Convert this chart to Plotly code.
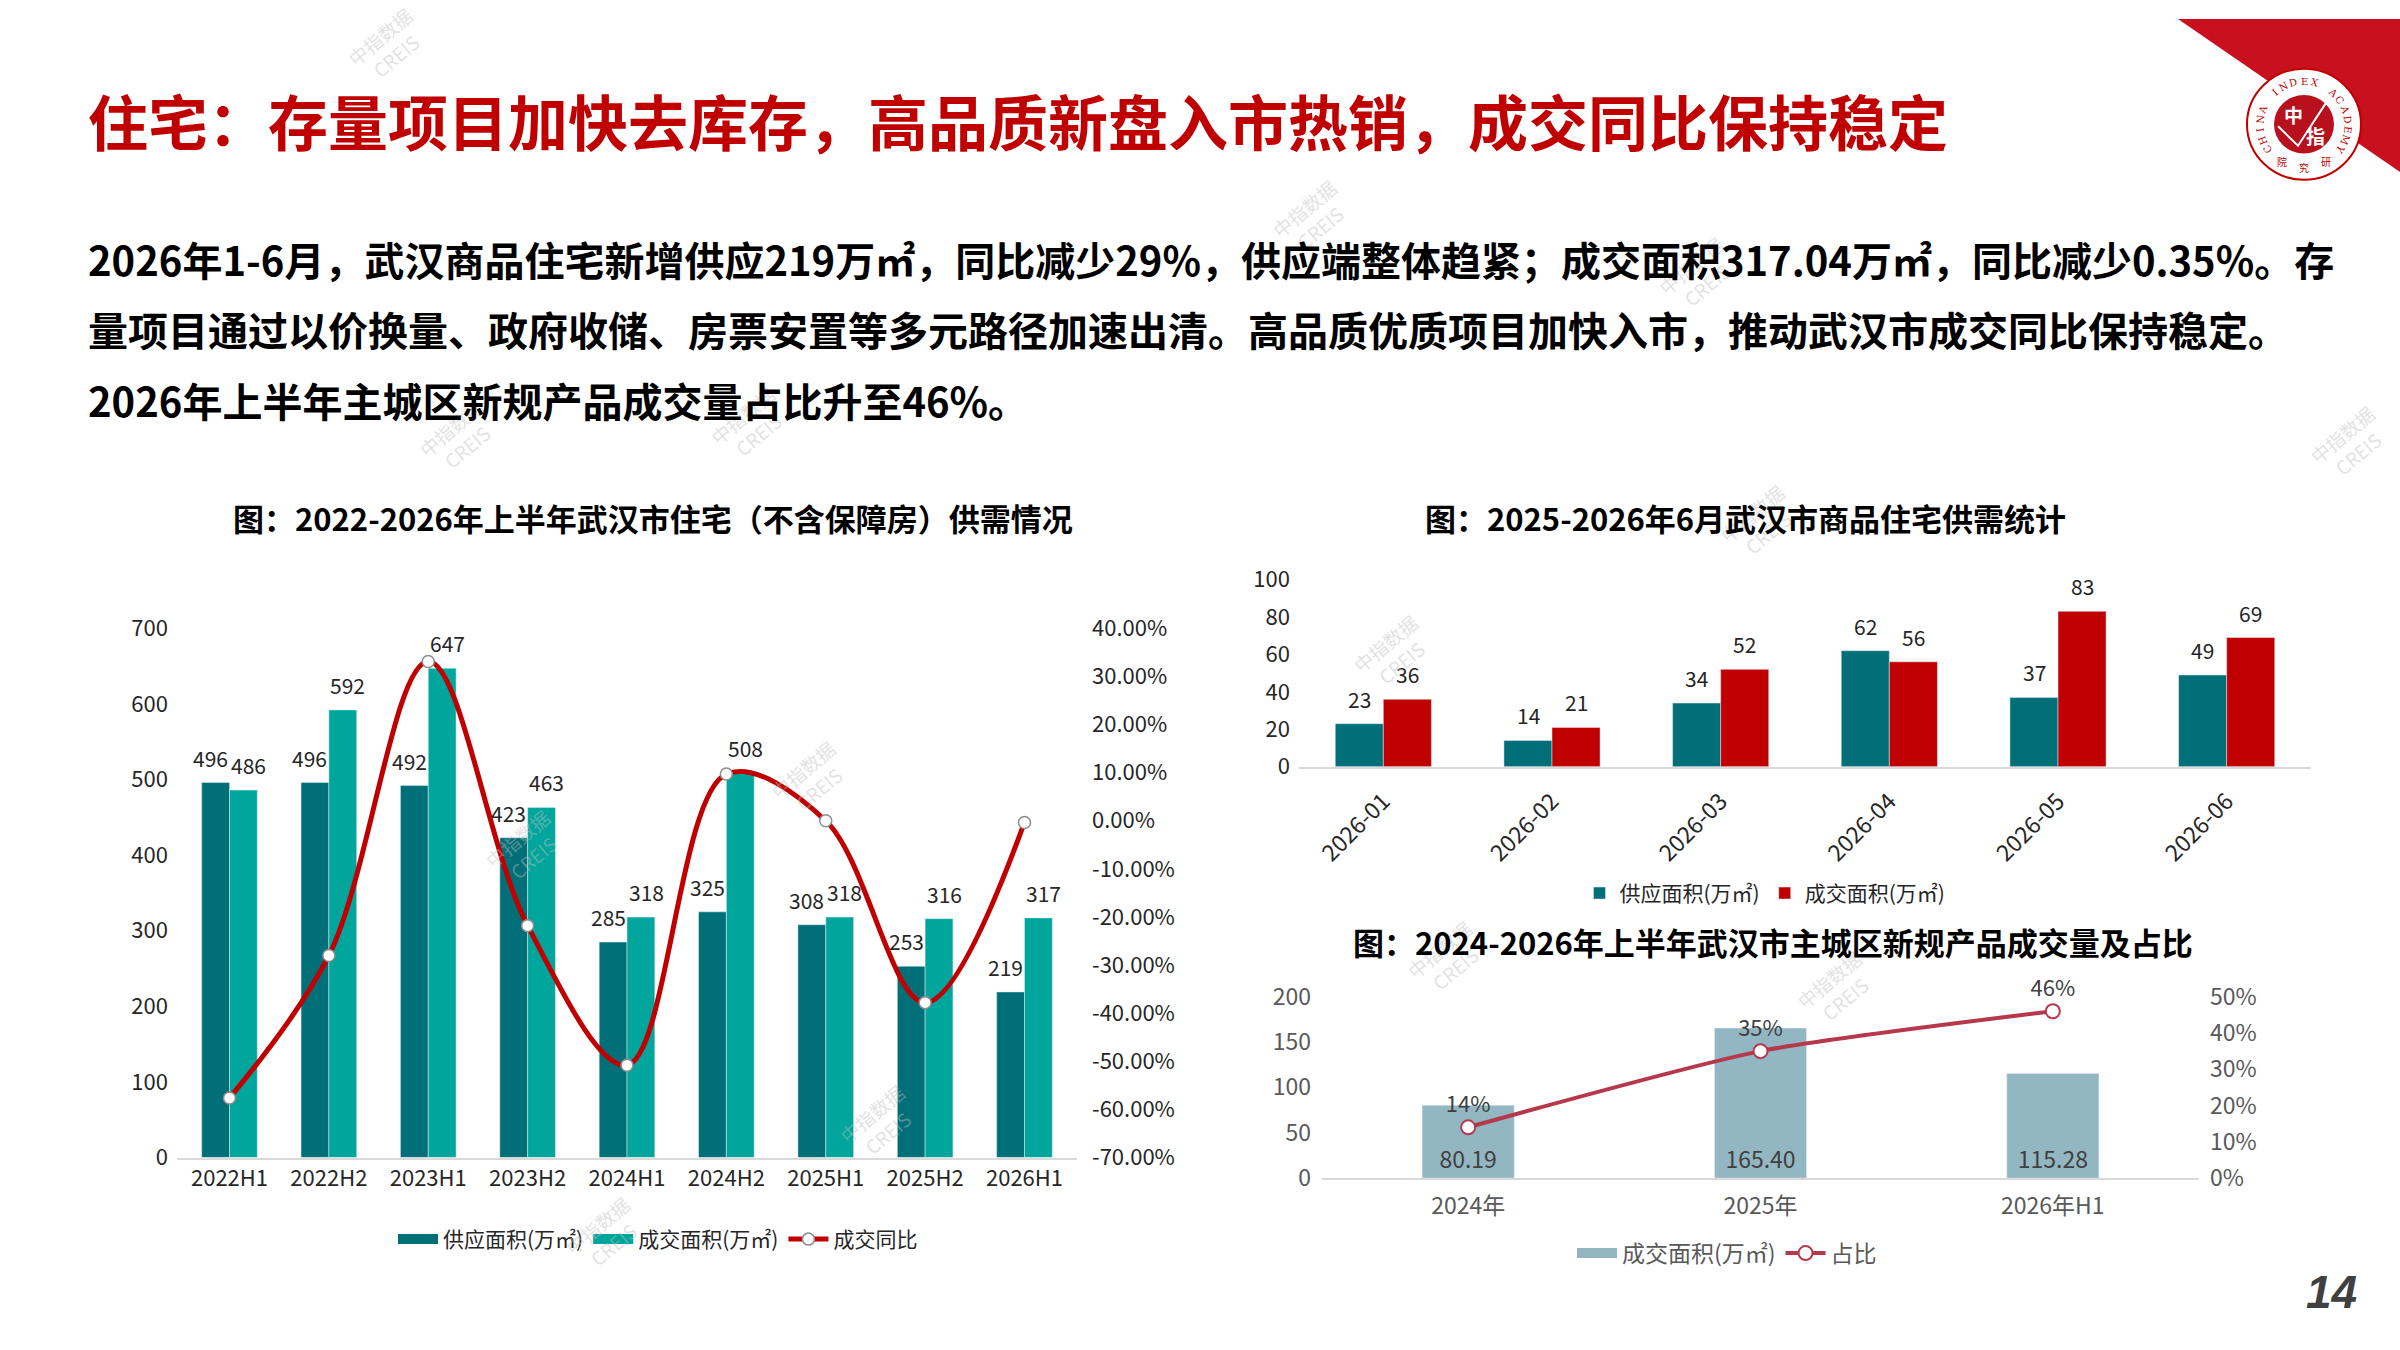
import math
import plotly.graph_objects as go

FONT = "Noto Sans CJK SC"
W, H = 2400, 1350

# ---- data ----
half_years = ["2022H1", "2022H2", "2023H1", "2023H2", "2024H1", "2024H2", "2025H1", "2025H2", "2026H1"]
supply_h = [496, 496, 492, 423, 285, 325, 308, 253, 219]
sales_h = [486, 592, 647, 463, 318, 508, 318, 316, 317]
yoy_h = [-0.576, -0.280, 0.331, -0.218, -0.508, 0.097, 0.0, -0.378, -0.0035]

months = ["2026-01", "2026-02", "2026-03", "2026-04", "2026-05", "2026-06"]
supply_m = [23, 14, 34, 62, 37, 49]
sales_m = [36, 21, 52, 56, 83, 69]

periods = ["2024年", "2025年", "2026年H1"]
new_sales = [80.19, 165.40, 115.28]
new_share = [0.14, 0.35, 0.46]

pct_ticks = [0.4, 0.3, 0.2, 0.1, 0.0, -0.1, -0.2, -0.3, -0.4, -0.5, -0.6, -0.7]
share_ticks = [0, 0.1, 0.2, 0.3, 0.4, 0.5]

TEAL_DARK = "#006F77"
TEAL = "#00A69C"
RED = "#C00000"
BLUE_GRAY = "#93B6C3"
CRIMSON = "#B5384C"
AX = "#D9D9D9"


def py(px):
    return 1 - px / H


def px_(x):
    return x / W


def note(x, y, text, font, xanchor="center", **kw):
    return dict(x=px_(x), y=py(y), xref="paper", yref="paper", text=text, showarrow=False,
                xanchor=xanchor, yanchor="middle", font=font, **kw)


def legend_box(name, color, legend, width=14):
    # legend-only entry drawn as a wide rectangle like the original
    return go.Scatter(x=[None], y=[None], mode="lines", name=name, legend=legend,
                      line=dict(color=color, width=width))


fig = go.Figure()

# ---- left chart: half-year supply / sales ----
fig.add_trace(go.Bar(x=half_years, y=supply_h, name="供应面积(万㎡)", marker_color=TEAL_DARK,
                     width=0.28, offset=-0.28, showlegend=False, xaxis="x", yaxis="y"))
fig.add_trace(go.Bar(x=half_years, y=sales_h, name="成交面积(万㎡)", marker_color=TEAL,
                     width=0.28, offset=0, showlegend=False, xaxis="x", yaxis="y"))
fig.add_trace(legend_box("供应面积(万㎡)", TEAL_DARK, "legend"))
fig.add_trace(legend_box("成交面积(万㎡)", TEAL, "legend"))
fig.add_trace(go.Scatter(x=half_years, y=yoy_h, name="成交同比", mode="lines+markers",
                         line=dict(color=RED, width=5, shape="spline", smoothing=1.0),
                         marker=dict(size=12, color="white", line=dict(color="#8C8C8C", width=1.5)),
                         cliponaxis=False, xaxis="x", yaxis="y2", legend="legend"))

# ---- top right: monthly ----
fig.add_trace(go.Bar(x=months, y=supply_m, name="供应面积(万㎡)", marker_color=TEAL_DARK,
                     width=0.285, offset=-0.285, xaxis="x2", yaxis="y3", legend="legend2"))
fig.add_trace(go.Bar(x=months, y=sales_m, name="成交面积(万㎡)", marker_color=RED,
                     width=0.285, offset=0, xaxis="x2", yaxis="y3", legend="legend2"))

# ---- bottom right: new products ----
fig.add_trace(go.Bar(x=periods, y=new_sales, name="成交面积(万㎡)", marker_color=BLUE_GRAY,
                     width=0.315, offset=-0.1575, text=[f"{v:.2f}" for v in new_sales],
                     textposition="inside", insidetextanchor="start", textangle=0,
                     constraintext="none", textfont=dict(family=FONT, size=23, color="#404040"),
                     showlegend=False, xaxis="x3", yaxis="y4"))
fig.add_trace(legend_box("成交面积(万㎡)", BLUE_GRAY, "legend3", width=18))
fig.add_trace(go.Scatter(x=periods, y=new_share, name="占比", mode="lines+markers+text",
                         text=[f"{v:.0%}" for v in new_share], textposition="top center",
                         textfont=dict(family=FONT, size=22, color="#404040"),
                         line=dict(color=CRIMSON, width=4, shape="spline", smoothing=0.6),
                         marker=dict(size=14, color="white", line=dict(color=CRIMSON, width=2)),
                         cliponaxis=False, xaxis="x3", yaxis="y5", legend="legend3"))

tick_dark = dict(family=FONT, size=22, color="#262626")
tick_gray = dict(family=FONT, size=23, color="#595959")

fig.update_layout(
    width=W, height=H,
    margin=dict(l=0, r=0, t=0, b=0),
    paper_bgcolor="white", plot_bgcolor="white",
    font=dict(family=FONT, color="#262626"),
    barmode="group",
    xaxis=dict(domain=[px_(177), px_(1077)], anchor="y", type="category", showline=True,
               linecolor=AX, linewidth=2, showgrid=False, ticks="", tickfont=tick_dark),
    yaxis=dict(domain=[py(1168), py(625)], range=[0, 700], dtick=100, showgrid=False,
               zeroline=False, tickfont=tick_dark, ticklabelstandoff=8),
    yaxis2=dict(overlaying="y", side="right", anchor="x", range=[-0.7, 0.4],
                tickvals=pct_ticks, ticktext=[f"{v * 100:.2f}%" for v in pct_ticks],
                showgrid=False, zeroline=False, tickfont=tick_dark, ticklabelstandoff=14),
    xaxis2=dict(domain=[px_(1299), px_(2311)], anchor="y3", type="category", showline=True,
                linecolor=AX, linewidth=2, showgrid=False, ticks="", tickangle=-45,
                tickfont=dict(family=FONT, size=23, color="#262626"), ticklabelstandoff=10),
    yaxis3=dict(domain=[py(767), py(575)], anchor="x2", range=[0, 100], dtick=20, showgrid=False,
                zeroline=False, tickfont=tick_dark, ticklabelstandoff=8),
    xaxis3=dict(domain=[px_(1322), px_(2199)], anchor="y4", type="category", showline=True,
                linecolor=AX, linewidth=2, showgrid=False, ticks="", tickfont=tick_gray,
                ticklabelstandoff=6),
    yaxis4=dict(domain=[py(1189), py(1003)], anchor="x3", range=[0, 200], dtick=50, showgrid=False,
                zeroline=False, tickfont=tick_gray, ticklabelstandoff=10),
    yaxis5=dict(overlaying="y4", side="right", anchor="x3", range=[0, 0.5],
                tickvals=share_ticks, ticktext=[f"{v:.0%}" for v in share_ticks],
                showgrid=False, zeroline=False, tickfont=tick_gray, ticklabelstandoff=10),
    legend=dict(orientation="h", x=px_(658), y=py(1252), xanchor="center", yanchor="middle",
                font=dict(family=FONT, size=21, color="#262626"), itemwidth=40, bgcolor="rgba(0,0,0,0)"),
    legend2=dict(orientation="h", x=px_(1765), y=py(897), xanchor="center", yanchor="middle",
                 font=dict(family=FONT, size=21, color="#262626"), itemwidth=30, bgcolor="rgba(0,0,0,0)"),
    legend3=dict(orientation="h", x=px_(1727), y=py(1266), xanchor="center", yanchor="middle",
                 font=dict(family=FONT, size=23, color="#595959"), itemwidth=40, bgcolor="rgba(0,0,0,0)"),
)

annotations = []

# value labels above the grouped bars
val_font = dict(family=FONT, size=21, color="#262626")
for xs, s_vals, d_vals, xr, yr, shift in [(half_years, supply_h, sales_h, "x", "y", 19),
                                          (months, supply_m, sales_m, "x2", "y3", 24)]:
    for c, s, d in zip(xs, s_vals, d_vals):
        annotations.append(dict(x=c, y=s, xref=xr, yref=yr, text=str(s), showarrow=False,
                                xshift=-shift, yshift=25, yanchor="middle", font=val_font))
        annotations.append(dict(x=c, y=d, xref=xr, yref=yr, text=str(d), showarrow=False,
                                xshift=shift, yshift=25, yanchor="middle", font=val_font))

# watermarks
for wx, wy in [(388, 28), (1312, 204), (1699, 263), (459, 429), (750, 416), (2350, 436),
               (1393, 650), (811, 780), (525, 850), (880, 1133), (605, 1247), (1760, 517),
               (1447, 964), (1837, 995)]:
    annotations.append(note(wx, wy, "中指数据<br>CREIS",
                            dict(family=FONT, size=19, color="rgba(190,190,190,0.45)"), textangle=-40))

annotations.append(note(86, 103, "<b>住宅：存量项目加快去库存，高品质新盘入市热销，成交同比保持稳定</b>",
                        dict(family=FONT, size=60, color=RED), xanchor="left"))

para = [
    "2026年1-6月，武汉商品住宅新增供应219万㎡，同比减少29%，供应端整体趋紧；成交面积317.04万㎡，同比减少0.35%。存",
    "量项目通过以价换量、政府收储、房票安置等多元路径加速出清。高品质优质项目加快入市，推动武汉市成交同比保持稳定。",
    "2026年上半年主城区新规产品成交量占比升至46%。",
]
for line, ly in zip(para, [246, 318, 391]):
    annotations.append(note(86, ly, f"<b>{line}</b>", dict(family=FONT, size=40, color="#000000"),
                            xanchor="left"))

for t, cx, cy in [("图：2022-2026年上半年武汉市住宅（不含保障房）供需情况", 653, 511),
                  ("图：2025-2026年6月武汉市商品住宅供需统计", 1745, 511),
                  ("图：2024-2026年上半年武汉市主城区新规产品成交量及占比", 1773, 946)]:
    annotations.append(note(cx, cy, f"<b>{t}</b>", dict(family=FONT, size=31, color="#000000")))

annotations.append(note(2331, 1306, "<b><i>14</i></b>",
                        dict(family="Liberation Sans", size=46, color="#404040")))

# logo
cx, cy, R = 2304, 108, 57
annotations.append(note(cx - 11, cy - 10, "<b>中</b>", dict(family=FONT, size=19, color="white")))
annotations.append(note(cx + 11, cy + 11, "<b>指</b>", dict(family=FONT, size=19, color="white")))
ring = "CHINA INDEX ACADEMY"
for i, ch in enumerate(ring):
    ang = math.radians(215 - i * 250 / (len(ring) - 1))
    annotations.append(note(cx + 44 * math.cos(ang), cy - 44 * math.sin(ang), ch,
                            dict(family="DejaVu Serif", size=10, color=RED),
                            textangle=90 - math.degrees(ang)))
for i, ch in enumerate("研究院"):
    ang = math.radians(-60 - i * 30)
    annotations.append(note(cx + 44 * math.cos(ang), cy - 44 * math.sin(ang), ch,
                            dict(family=FONT, size=10, color=RED)))

fig.update_layout(annotations=annotations)

shapes = [
    dict(type="path", xref="paper", yref="paper", layer="below",
         path=f"M {px_(2178)},{py(0)} L {px_(2400)},{py(0)} L {px_(2400)},{py(157)} Z",
         fillcolor="#C8101E", line=dict(width=0)),
    dict(type="circle", xref="paper", yref="paper",
         x0=px_(cx - R), x1=px_(cx + R), y0=py(cy + R), y1=py(cy - R),
         fillcolor="white", line=dict(color=RED, width=2), layer="below"),
    dict(type="circle", xref="paper", yref="paper",
         x0=px_(cx - 30), x1=px_(cx + 30), y0=py(cy + 30), y1=py(cy - 30),
         fillcolor="#B8101C", line=dict(width=0), layer="below"),
    dict(type="path", xref="paper", yref="paper",
         path=f"M {px_(cx - 26)},{py(cy + 2)} L {px_(cx - 6)},{py(cy + 22)} L {px_(cx + 22)},{py(cy - 22)}",
         line=dict(color="white", width=2), layer="below"),
]
fig.update_layout(shapes=shapes)

# drop the browser's default body margin so the slide sits flush at the top-left
fig.write_html("out.html", config={"displayModeBar": False},
               post_script="document.body.style.margin='0';")
